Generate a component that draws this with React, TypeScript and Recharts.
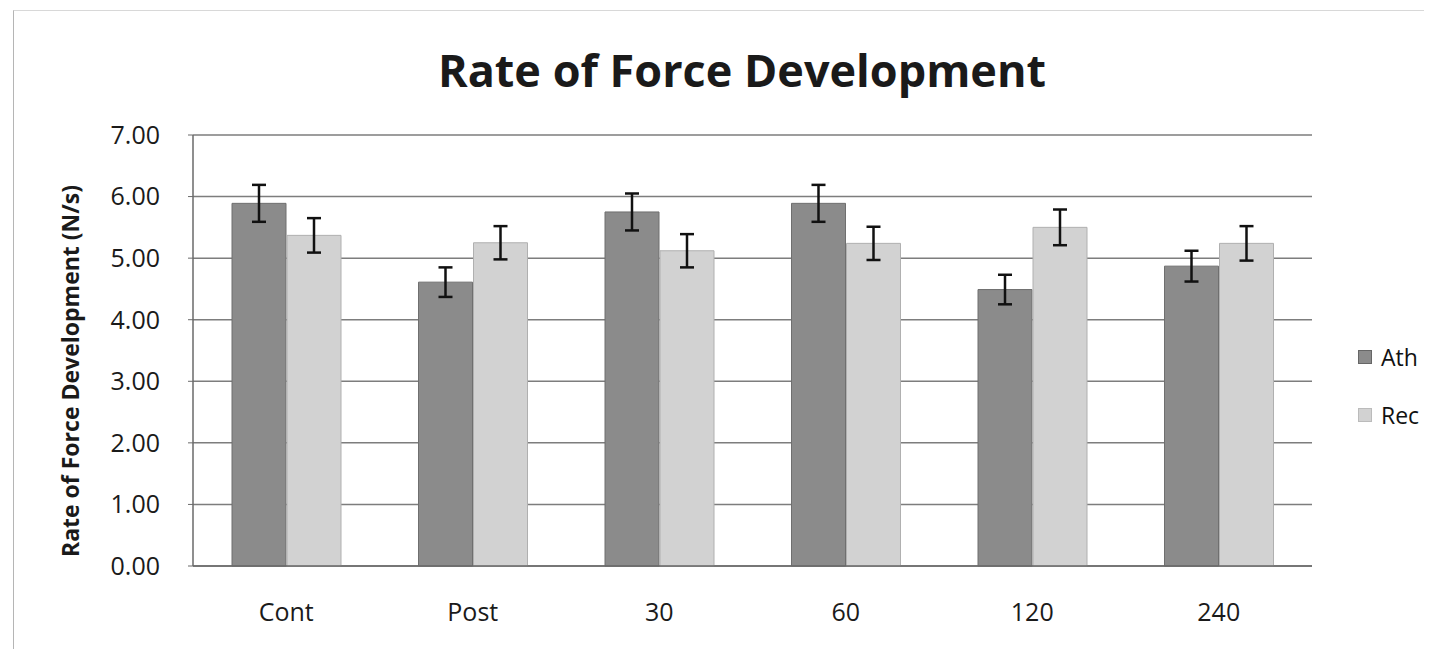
import React from 'react';
import { BarChart, Bar, XAxis, YAxis, CartesianGrid, ErrorBar } from 'recharts';

const categories = ['Cont', 'Post', '30', '60', '120', '240'];
const athValues = [5.89, 4.61, 5.75, 5.89, 4.49, 4.87];
const athErrors = [0.30, 0.24, 0.30, 0.30, 0.24, 0.25];
const recValues = [5.37, 5.25, 5.12, 5.24, 5.50, 5.24];
const recErrors = [0.28, 0.27, 0.27, 0.27, 0.29, 0.28];
const yTicks = [0, 1, 2, 3, 4, 5, 6, 7];
const seriesNames = ['Ath', 'Rec'];
const titleText = 'Rate of Force Development';
const yLabelText = 'Rate of Force Development (N/s)';

const data = categories.map((c, i) => ({
  name: c,
  Ath: athValues[i],
  AthErr: athErrors[i],
  Rec: recValues[i],
  RecErr: recErrors[i],
}));

const FONT = '"Open Sans", "Liberation Sans", sans-serif';
const ATH_FILL = '#8b8b8b';
const REC_FILL = '#d2d2d2';

export default function App() {
  return (
    <div style={{ position: 'relative', width: 1416, height: 641, background: '#fff' }}>
      <div
        style={{
          position: 'absolute',
          left: 5,
          top: 2,
          width: 1411,
          height: 639,
          borderLeft: '1px solid #b5b5b5',
          borderTop: '1px solid #d8d8d8',
        }}
      />
      <div
        style={{
          position: 'absolute',
          left: 0,
          width: 1468,
          top: 34,
          textAlign: 'center',
          fontFamily: FONT,
          fontWeight: 700,
          fontSize: 45,
          color: '#1a1a1a',
          lineHeight: '56px',
        }}
      >
        {titleText}
      </div>
      <div
        style={{
          position: 'absolute',
          left: 1350,
          top: 320,
          fontFamily: FONT,
          fontSize: 23,
          color: '#111',
        }}
      >
        {seriesNames.map((n, i) => (
          <div key={n} style={{ display: 'flex', alignItems: 'center', height: 58 }}>
            <span
              style={{
                display: 'inline-block',
                width: 12,
                height: 12,
                background: i === 0 ? ATH_FILL : REC_FILL,
                border: `1px solid ${i === 0 ? '#666' : '#bbb'}`,
                marginRight: 9,
              }}
            />
            <span>{n}</span>
          </div>
        ))}
      </div>
      <BarChart
        width={1416}
        height={641}
        data={data}
        margin={{ top: 127, right: 112, bottom: 23, left: 0 }}
        barGap={1}
        barCategoryGap={39}
        style={{ position: 'absolute', left: 0, top: 0 }}
      >
        <CartesianGrid vertical={false} stroke="#7d7d7d" strokeWidth={1.5} />
        <XAxis
          dataKey="name"
          axisLine={{ stroke: '#6a6a6a', strokeWidth: 1.5 }}
          tickLine={false}
          tickMargin={31}
          height={60}
          tick={{ fontFamily: FONT, fontSize: 25, fill: '#1a1a1a' }}
        />
        <YAxis
          width={185}
          domain={[0, 7]}
          ticks={yTicks}
          interval={0}
          tickFormatter={(v: number) => v.toFixed(2)}
          axisLine={{ stroke: '#6a6a6a', strokeWidth: 1.5 }}
          tickLine={{ stroke: '#6a6a6a' }}
          tickSize={5}
          tickMargin={28}
          tick={{ fontFamily: FONT, fontSize: 25, fill: '#1a1a1a' }}
          label={{
            content: () => (
              <text
                x={62}
                y={363}
                transform="rotate(-90 62 363)"
                textAnchor="middle"
                dominantBaseline="central"
                style={{ fontFamily: FONT, fontWeight: 700, fontSize: 23, fill: '#1a1a1a' }}
              >
                {yLabelText}
              </text>
            ),
          }}
        />
        <Bar dataKey="Ath" fill={ATH_FILL} stroke="#6f6f6f" strokeWidth={1} barSize={54} isAnimationActive={false}>
          <ErrorBar dataKey="AthErr" width={7} stroke="#111" strokeWidth={2.5} />
        </Bar>
        <Bar dataKey="Rec" fill={REC_FILL} stroke="#b0b0b0" strokeWidth={1} barSize={54} isAnimationActive={false}>
          <ErrorBar dataKey="RecErr" width={7} stroke="#111" strokeWidth={2.5} />
        </Bar>
      </BarChart>
    </div>
  );
}
